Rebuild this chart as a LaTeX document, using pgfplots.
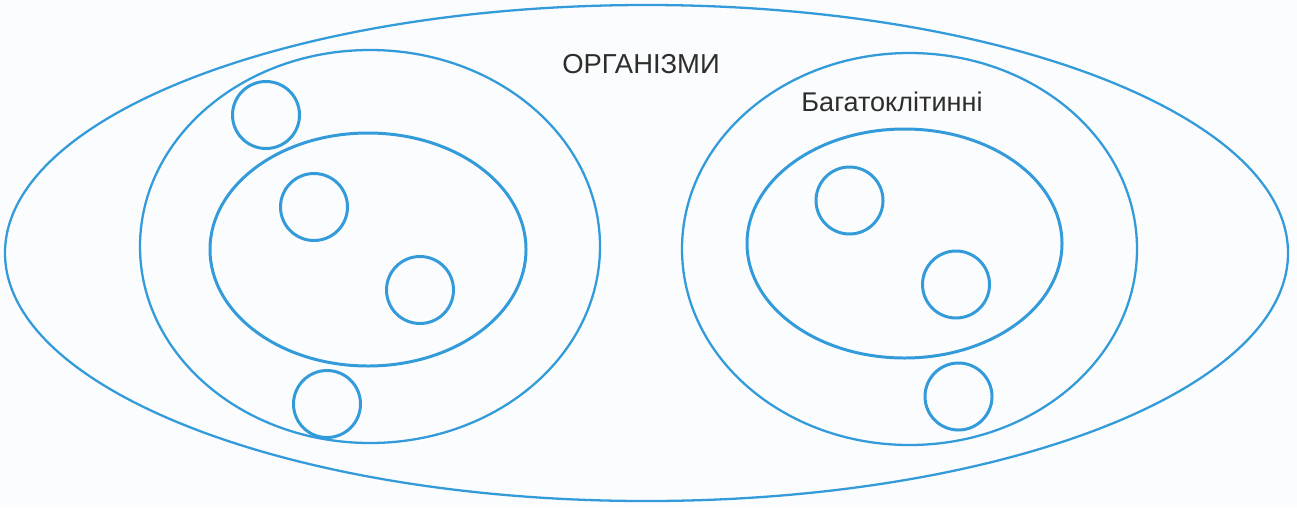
\documentclass[border=0pt]{standalone}
\usepackage{pgfplots}
\pgfplotsset{compat=1.18}
\usepackage{fontspec}
\setmainfont{Liberation Sans}
\definecolor{lineblue}{RGB}{52,155,218}
\definecolor{paper}{RGB}{251,252,253}
\definecolor{txt}{RGB}{45,45,45}
\begin{document}
\begin{tikzpicture}
\begin{axis}[
  scale only axis, width=12.97cm, height=5.07cm,
  xmin=0, xmax=1297, ymin=0, ymax=507,
  hide axis, clip=false,
]
\fill[paper] (axis cs:0,0) rectangle (axis cs:1297,507);
% outer and middle ellipses
\draw[lineblue, line width=0.65pt] (axis cs:646.5,254) ellipse [x radius=641.5, y radius=248];
\draw[lineblue, line width=0.65pt] (axis cs:370,260.5) ellipse [x radius=230, y radius=196.5];
\draw[lineblue, line width=0.65pt] (axis cs:909.5,258) ellipse [x radius=227.5, y radius=196];
% inner ellipses
\draw[lineblue, line width=0.85pt] (axis cs:368,257.5) ellipse [x radius=158, y radius=116.5];
\draw[lineblue, line width=0.85pt] (axis cs:904.5,263.5) ellipse [x radius=157.5, y radius=114.5];
% small circles
\draw[lineblue, line width=0.85pt] (axis cs:266,392) ellipse [x radius=33.5, y radius=33.5];
\draw[lineblue, line width=0.85pt] (axis cs:314,300) ellipse [x radius=33.5, y radius=33.5];
\draw[lineblue, line width=0.85pt] (axis cs:420,217) ellipse [x radius=33.5, y radius=33.5];
\draw[lineblue, line width=0.85pt] (axis cs:327,103) ellipse [x radius=33.5, y radius=33.5];
\draw[lineblue, line width=0.85pt] (axis cs:849.5,306.5) ellipse [x radius=33.5, y radius=33.5];
\draw[lineblue, line width=0.85pt] (axis cs:956,222.5) ellipse [x radius=33.5, y radius=33.5];
\draw[lineblue, line width=0.85pt] (axis cs:958.5,110.5) ellipse [x radius=33.5, y radius=33.5];
% labels
\node[txt, font=\fontsize{7.8}{9}\selectfont, inner sep=0pt] at (axis cs:641,443) {ОРГАНІЗМИ};
\node[txt, font=\fontsize{7.7}{9}\selectfont, inner sep=0pt] at (axis cs:892,405) {Багатоклітинні};
\end{axis}
\end{tikzpicture}
\end{document}
